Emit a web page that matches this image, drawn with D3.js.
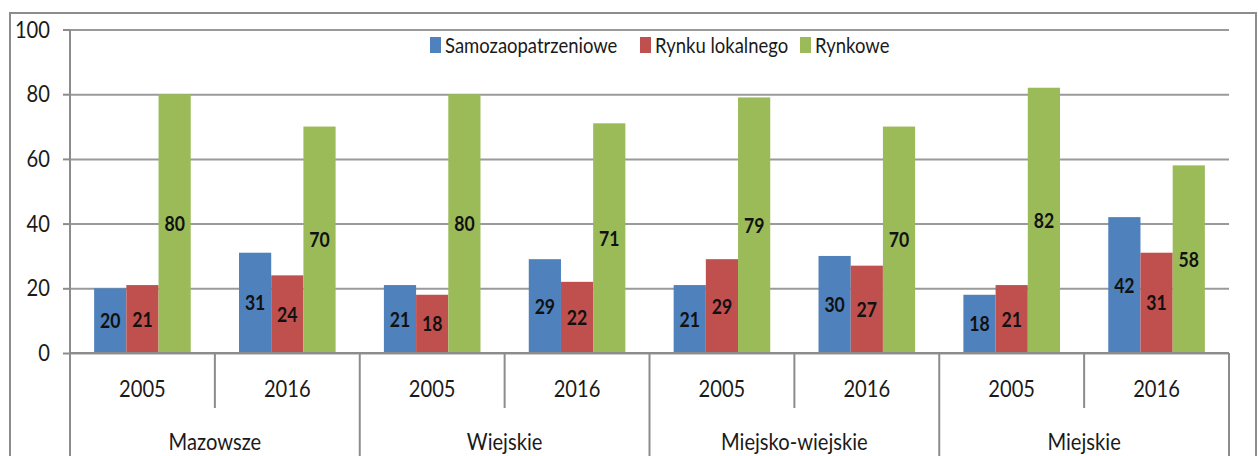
<!DOCTYPE html>
<html lang="pl">
<head>
<meta charset="UTF-8">
<title>Samozaopatrzeniowe / Rynku lokalnego / Rynkowe</title>
<script src="https://cdn.jsdelivr.net/npm/d3@7"></script>
<style>
  body { margin:0; background:#fff; }
  svg text { font-family: Lato, "Open Sans", sans-serif; fill:#1a1a1a; }
</style>
</head>
<body>
<div id="chart"></div>
<script>
// dane
const regions = ["Mazowsze", "Wiejskie", "Miejsko-wiejskie", "Miejskie"];
const years = ["2005", "2016"];
const seriesNames = ["Samozaopatrzeniowe", "Rynku lokalnego", "Rynkowe"];
const samozaopatrzeniowe = [20, 31, 21, 29, 21, 30, 18, 42];
const rynkuLokalnego = [21, 24, 18, 22, 29, 27, 21, 31];
const rynkowe = [80, 70, 80, 71, 79, 70, 82, 58];
const yTicks = [0, 20, 40, 60, 80, 100];

const colors = ["#4f81bd", "#c0504d", "#9bbb59"];
const W = 1258, H = 456;
const plotL = 70, plotR = 1229, plotT = 29.5, plotB = 353;
const SX = 0.84; // zwężenie czcionki (wąski krój jak w oryginale)

// tabela: region x rok
const rows = [];
regions.forEach((r, i) => years.forEach((yr, j) => {
  const k = i * 2 + j;
  rows.push({ key: r + "|" + yr, region: r, year: yr,
    vals: [samozaopatrzeniowe[k], rynkuLokalnego[k], rynkowe[k]] });
}));

const svg = d3.select("#chart").append("svg")
  .attr("width", W).attr("height", H);

// tekst zwężony w poziomie
function label(parent, x, yy, size, txt, anchor) {
  return parent.append("text")
    .attr("transform", `translate(${x},${yy}) scale(${SX},1)`)
    .attr("text-anchor", anchor || "middle")
    .attr("font-size", size)
    .text(txt);
}

// ramka
svg.append("path")
  .attr("d", `M10,${H + 2} V13 H1256 V${H + 2}`)
  .attr("fill", "none").attr("stroke", "#8c8c8c").attr("stroke-width", 2);

const x0 = d3.scaleBand().domain(rows.map(d => d.key)).range([plotL, plotR]);
const x1 = d3.scaleBand().domain(d3.range(3)).range([0, x0.bandwidth()])
  .paddingInner(0).paddingOuter(0.75);
const y = d3.scaleLinear().domain([0, 100]).range([plotB, plotT]);

// siatka
svg.append("g")
  .attr("transform", `translate(${plotL},0)`)
  .call(d3.axisLeft(y).tickValues(yTicks).tickSize(-(plotR - plotL)).tickFormat(""))
  .call(g => g.select(".domain").remove())
  .call(g => g.selectAll("line").attr("stroke", "#9a9a9a").attr("stroke-width", 2));

// oś Y
svg.append("g")
  .attr("transform", `translate(${plotL},0)`)
  .call(d3.axisLeft(y).tickValues(yTicks).tickSize(7).tickFormat(""))
  .call(g => g.select(".domain").remove())
  .call(g => g.selectAll("line").attr("stroke", "#8c8c8c").attr("stroke-width", 2));
const yl = svg.append("g");
yTicks.forEach(t => label(yl, 50, y(t) + 8, 24, t, "end"));

// słupki
const grp = svg.append("g").selectAll("g").data(rows).join("g")
  .attr("transform", d => `translate(${x0(d.key)},0)`);

grp.selectAll("rect").data(d => d.vals).join("rect")
  .attr("x", (v, i) => x1(i))
  .attr("width", x1.bandwidth())
  .attr("y", v => y(v))
  .attr("height", v => y(0) - y(v))
  .attr("fill", (v, i) => colors[i]);

grp.selectAll("text").data(d => d.vals).join("text")
  .attr("transform", (v, i) =>
    `translate(${x1(i) + x1.bandwidth() / 2},${(y(v) + y(0)) / 2 + 7.5}) scale(${SX},1)`)
  .attr("text-anchor", "middle")
  .attr("font-size", 21).attr("font-weight", "bold")
  .style("fill", "#111")
  .text(v => v);

// oś kategorii
const axisCol = "#8c8c8c";
const ax = svg.append("g");
ax.append("line").attr("x1", plotL).attr("x2", plotR).attr("y1", plotB).attr("y2", plotB)
  .attr("stroke", axisCol).attr("stroke-width", 2);
ax.append("line").attr("x1", plotL).attr("x2", plotL).attr("y1", plotT).attr("y2", H + 2)
  .attr("stroke", axisCol).attr("stroke-width", 2);
rows.forEach(d => {
  const xr = x0(d.key) + x0.bandwidth();
  const isEnd = d.year === years[years.length - 1];
  ax.append("line").attr("x1", xr).attr("x2", xr)
    .attr("y1", plotB).attr("y2", isEnd ? H + 2 : 408)
    .attr("stroke", axisCol).attr("stroke-width", 2);
  label(ax, x0(d.key) + x0.bandwidth() / 2, 397, 24, d.year);
});
regions.forEach(r => {
  const a = x0(r + "|" + years[0]), b = x0(r + "|" + years[1]) + x0.bandwidth();
  label(ax, (a + b) / 2, 450, 24, r);
});

// legenda
const legX = [430, 640, 800];
const leg = svg.append("g").selectAll("g").data(seriesNames).join("g")
  .attr("transform", (d, i) => `translate(${legX[i]},37)`);
leg.append("rect").attr("width", 11).attr("height", 16).attr("fill", (d, i) => colors[i]);
leg.append("text")
  .attr("transform", `translate(15,16) scale(${SX},1)`)
  .attr("font-size", 22).text(d => d);
</script>
</body>
</html>
